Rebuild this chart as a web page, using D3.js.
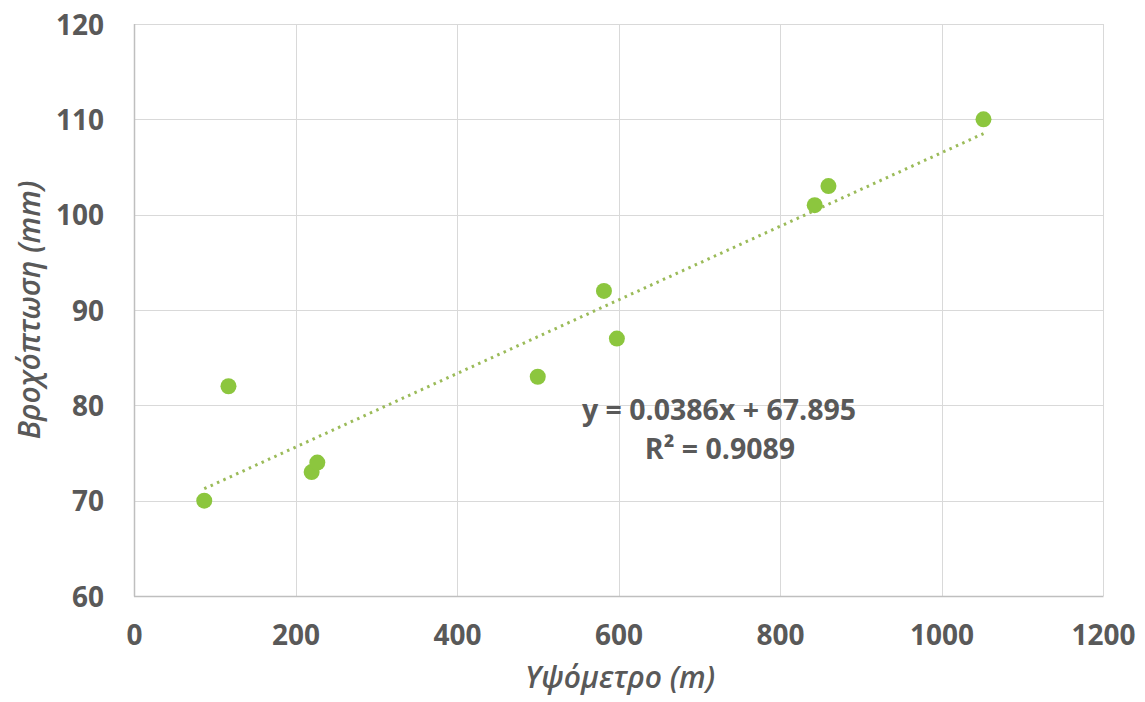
<!DOCTYPE html>
<html>
<head>
<meta charset="utf-8">
<script src="https://cdn.jsdelivr.net/npm/d3@7"></script>
<style>
  html, body { margin: 0; padding: 0; background: #ffffff; }
  svg { display: block; }
</style>
</head>
<body>
<svg id="chart" width="1145" height="702"></svg>
<script>
// ---- data ----
const altitude = [87, 117, 220, 227, 500, 582, 598, 843, 860, 1052];
const rainfall = [70, 82, 73, 74, 83, 92, 87, 101, 103, 110];
const xTicks = [0, 200, 400, 600, 800, 1000, 1200];
const yTicks = [60, 70, 80, 90, 100, 110, 120];
const trendSlope = 0.0386;
const trendIntercept = 67.895;
const equationLines = ["y = 0.0386x + 67.895", "R² = 0.9089"];
const xTitle = "Υψόμετρο (m)";
const yTitle = "Βροχόπτωση (mm)";

// ---- layout ----
const W = 1145, H = 702;
const plot = { left: 134, right: 1103, top: 24, bottom: 596 };
const font = "'Open Sans', 'DejaVu Sans', sans-serif";
const textColor = "#595959";
const green = "#8cc63e";
const trendColor = "#9bbb59";

const svg = d3.select("#chart");
svg.append("rect").attr("width", W).attr("height", H).attr("fill", "#fff");

const x = d3.scaleLinear().domain([0, 1200]).range([plot.left, plot.right]);
const y = d3.scaleLinear().domain([60, 120]).range([plot.bottom, plot.top]);

// gridlines
const grid = svg.append("g");
grid.selectAll(".vg").data(xTicks).join("line")
  .attr("x1", d => Math.round(x(d)) + 0.5).attr("x2", d => Math.round(x(d)) + 0.5)
  .attr("y1", plot.top).attr("y2", plot.bottom)
  .attr("stroke", "#d9d9d9").attr("stroke-width", 1);
grid.selectAll(".hg").data(yTicks).join("line")
  .attr("y1", d => Math.round(y(d)) + 0.5).attr("y2", d => Math.round(y(d)) + 0.5)
  .attr("x1", plot.left).attr("x2", plot.right)
  .attr("stroke", "#d9d9d9").attr("stroke-width", 1);

// axis lines (left & bottom slightly darker)
svg.append("line").attr("x1", plot.left + 0.5).attr("x2", plot.left + 0.5)
  .attr("y1", plot.top).attr("y2", plot.bottom + 0.5).attr("stroke", "#bfbfbf").attr("stroke-width", 1.5);
svg.append("line").attr("x1", plot.left).attr("x2", plot.right + 0.5)
  .attr("y1", plot.bottom + 0.5).attr("y2", plot.bottom + 0.5).attr("stroke", "#bfbfbf").attr("stroke-width", 1.5);

// axes via d3 (ticks/labels only)
const xAxis = d3.axisBottom(x).tickValues(xTicks).tickSize(0).tickPadding(0).tickFormat(d3.format("d"));
const gx = svg.append("g").attr("transform", `translate(0, ${plot.bottom + 29})`).call(xAxis);
gx.select(".domain").remove();
gx.selectAll("text").attr("font-family", font).attr("font-size", 28).attr("font-weight", "bold")
  .attr("fill", textColor).attr("dy", "0.71em").attr("y", 0);

const yAxis = d3.axisLeft(y).tickValues(yTicks).tickSize(0).tickPadding(0).tickFormat(d3.format("d"));
const gy = svg.append("g").attr("transform", `translate(${plot.left - 30}, 0)`).call(yAxis);
gy.select(".domain").remove();
gy.selectAll("text").attr("font-family", font).attr("font-size", 28).attr("font-weight", "bold")
  .attr("fill", textColor).attr("dy", "0.36em").attr("x", 0);

// trendline
const xMin = d3.min(altitude), xMax = d3.max(altitude);
const trend = [xMin, xMax].map(v => [v, trendSlope * v + trendIntercept]);
svg.append("path")
  .attr("d", d3.line().x(d => x(d[0])).y(d => y(d[1]))(trend))
  .attr("fill", "none").attr("stroke", trendColor).attr("stroke-width", 3)
  .attr("stroke-dasharray", "2.5,4.5");

// points
svg.append("g").selectAll("circle").data(altitude.map((a, i) => [a, rainfall[i]])).join("circle")
  .attr("cx", d => x(d[0])).attr("cy", d => y(d[1])).attr("r", 8)
  .attr("fill", green);

// equation label
const eq = svg.append("text").attr("font-family", font).attr("font-size", 28.5).attr("font-weight", "bold")
  .attr("fill", textColor).attr("text-anchor", "middle");
eq.append("tspan").attr("x", 719).attr("y", 420).text(equationLines[0]);
eq.append("tspan").attr("x", 720).attr("y", 459).text(equationLines[1]);

// axis titles
svg.append("text").attr("x", 620).attr("y", 688).attr("text-anchor", "middle")
  .attr("font-family", font).attr("font-size", 30).attr("font-style", "italic").attr("font-weight", 600)
  .attr("fill", textColor).text(xTitle);
svg.append("text").attr("transform", "translate(40, 310) rotate(-90)").attr("text-anchor", "middle")
  .attr("font-family", font).attr("font-size", 30).attr("font-style", "italic").attr("font-weight", 600)
  .attr("fill", textColor).text(yTitle);
</script>
</body>
</html>
